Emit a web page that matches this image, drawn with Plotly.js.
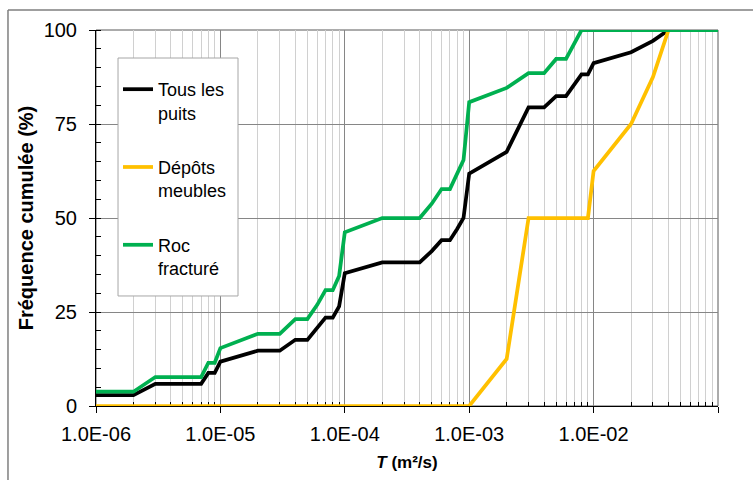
<!DOCTYPE html>
<html>
<head>
<meta charset="utf-8">
<script src="https://cdn.plot.ly/plotly-3.0.1.min.js"></script>
<style>
html,body{margin:0;padding:0;background:#fff;overflow:hidden;}
#chart{width:753px;height:480px;}
</style>
</head>
<body>
<div id="chart"></div>
<script>
// ---- Data ----
const seriesNames = ["Tous les<br>puits", "Dépôts<br>meubles", "Roc<br>fracturé"];

const xTous = [1e-6, 2e-6, 3e-6, 7e-6, 8e-6, 9e-6, 1e-5, 2e-5, 3e-5, 4e-5, 5e-5, 6e-5, 7e-5, 8e-5, 9e-5,
               1e-4, 2e-4, 4e-4, 5e-4, 6e-4, 7e-4, 8e-4, 9e-4, 1e-3, 2e-3, 3e-3, 4e-3, 5e-3, 6e-3,
               8e-3, 9e-3, 1e-2, 2e-2, 3e-2, 4e-2];
const yTous = [2.9, 2.9, 5.9, 5.9, 8.8, 8.8, 11.8, 14.7, 14.7, 17.6, 17.6, 20.6, 23.5, 23.5, 26.5,
               35.3, 38.2, 38.2, 41.2, 44.1, 44.1, 47.1, 50.0, 61.8, 67.6, 79.4, 79.4, 82.4, 82.4,
               88.2, 88.2, 91.2, 94.1, 97.1, 100];

const xDepots = [1e-6, 1e-3, 2e-3, 3e-3, 9e-3, 1e-2, 2e-2, 3e-2, 4e-2];
const yDepots = [0, 0, 12.5, 50, 50, 62.5, 75, 87.5, 100];

const xRoc = [1e-6, 2e-6, 3e-6, 7e-6, 8e-6, 9e-6, 1e-5, 2e-5, 3e-5, 4e-5, 5e-5, 6e-5, 7e-5, 8e-5, 9e-5,
              1e-4, 2e-4, 4e-4, 5e-4, 6e-4, 7e-4, 9e-4, 1e-3, 2e-3, 3e-3, 4e-3, 5e-3, 6e-3, 8e-3, 1e-1];
const yRoc = [3.8, 3.8, 7.7, 7.7, 11.5, 11.5, 15.4, 19.2, 19.2, 23.1, 23.1, 26.9, 30.8, 30.8, 34.6,
              46.2, 50.0, 50.0, 53.8, 57.7, 57.7, 65.4, 80.8, 84.6, 88.5, 88.5, 92.3, 92.3, 100, 100];

const xTickVals = [1e-6, 1e-5, 1e-4, 1e-3, 1e-2, 1e-1];
const xTickText = ["1.0E-06", "1.0E-05", "1.0E-04", "1.0E-03", "1.0E-02", "1.0E-01"];
const yTickVals = [0, 25, 50, 75, 100];

// minor log positions (2..9 per decade)
const minorX = [];
for (let e = -6; e < -1; e++) {
  for (let m = 2; m <= 9; m++) minorX.push(m * Math.pow(10, e));
}

const FONT = 'Arial, "Liberation Sans", sans-serif';

const traces = [
  {x: xTous, y: yTous, name: seriesNames[0], mode: 'lines', legendgroup: 'a',
   line: {color: '#000000', width: 3.75}, cliponaxis: false},
  {x: xDepots, y: yDepots, name: seriesNames[1], mode: 'lines', legendgroup: 'b',
   line: {color: '#FFC000', width: 3.75}, cliponaxis: false},
  {x: xRoc, y: yRoc, name: seriesNames[2], mode: 'lines', legendgroup: 'c',
   line: {color: '#00B050', width: 3.75}, cliponaxis: false}
];

const layout = {
  width: 753, height: 480,
  margin: {l: 96, r: 35, t: 30, b: 74},
  paper_bgcolor: '#ffffff', plot_bgcolor: '#ffffff',
  font: {family: FONT, color: '#000000'},
  showlegend: true,
  legend: {
    x: 0.0354, y: 0.891, xanchor: 'left', yanchor: 'top',
    bgcolor: 'rgba(0,0,0,0)', borderwidth: 0,
    font: {family: FONT, size: 18, color: '#000000'},
    traceorder: 'grouped', tracegroupgap: 28, valign: 'top'
  },
  xaxis: {
    type: 'log', range: [-6, -1], autorange: false,
    tickmode: 'array', tickvals: xTickVals, ticktext: xTickText,
    ticks: 'outside', ticklen: 6, tickcolor: '#000000', tickwidth: 1,
    ticklabelstandoff: 4,
    tickfont: {family: FONT, size: 20, color: '#000000'},
    showline: true, linecolor: '#000000', linewidth: 1,
    showgrid: true, gridcolor: '#868686', gridwidth: 1,
    zeroline: false, layer: 'below traces',
    minor: {tickmode: 'array', tickvals: minorX, ticks: 'inside', ticklen: 4,
            tickcolor: '#000000', showgrid: true, gridcolor: '#d0d0d0', gridwidth: 1},
    title: {text: '<b><i>T</i> (m²/s)</b>', font: {family: FONT, size: 17, color: '#000000'}, standoff: 12}
  },
  yaxis: {
    range: [0, 100], autorange: false,
    tickmode: 'array', tickvals: yTickVals,
    ticks: 'outside', ticklen: 6, tickcolor: '#000000', tickwidth: 1,
    ticklabelstandoff: 8,
    tickfont: {family: FONT, size: 20, color: '#000000'},
    showline: true, linecolor: '#000000', linewidth: 1,
    showgrid: true, gridcolor: '#868686', gridwidth: 1,
    zeroline: false, layer: 'below traces',
    minor: {dtick: 5, ticks: 'inside', ticklen: 5, tickcolor: '#000000', showgrid: false},
    title: {text: '<b>Fréquence cumulée (%)</b>', font: {family: FONT, size: 20, color: '#000000'}, standoff: 4}
  },
  shapes: [
    // plot area frame (right/top)
    {type: 'rect', xref: 'paper', yref: 'paper', x0: 0, x1: 1, y0: 0, y1: 1,
     line: {color: '#595959', width: 1}, layer: 'below'},
    // legend box
    {type: 'rect', xref: 'paper', yref: 'paper', x0: 0.0354, x1: 0.2283, y0: 0.2926, y1: 0.9255,
     fillcolor: '#ffffff', line: {color: '#a6a6a6', width: 1}, layer: 'above'},
    // outer chart frame (left and top edges)
    {type: 'line', xref: 'paper', yref: 'paper', x0: -0.1415, x1: -0.1415, y0: -0.3, y1: 1.0532,
     line: {color: '#7f7f7f', width: 1.5}},
    {type: 'line', xref: 'paper', yref: 'paper', x0: -0.1415, x1: 1.2, y0: 1.0532, y1: 1.0532,
     line: {color: '#7f7f7f', width: 1.5}}
  ]
};

Plotly.newPlot('chart', traces, layout, {displayModeBar: false, staticPlot: true});
</script>
</body>
</html>
